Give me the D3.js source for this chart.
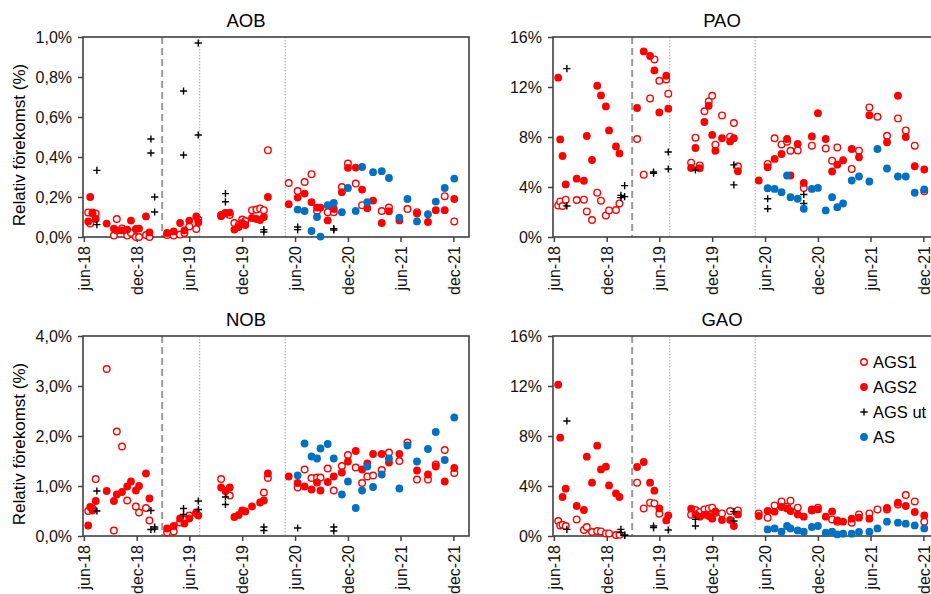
<!DOCTYPE html>
<html>
<head>
<meta charset="utf-8">
<script src="https://cdn.jsdelivr.net/npm/d3@7"></script>
<style>
body { margin: 0; background: #fff; }
svg { display: block; font-family: 'Liberation Sans', Arial, sans-serif; }
</style>
</head>
<body>
<svg width="931" height="594"></svg>
<script>
// sampling dates for AGS1 / AGS2 (2018 period, 2019 period, autumn 2019, 2020-21)
const agsDates = [
    '2018-06-16', '2018-06-23', '2018-07-01', '2018-07-12', '2018-08-19', '2018-09-13', '2018-09-23',
    '2018-10-11', '2018-10-29', '2018-11-11', '2018-11-28', '2018-12-09', '2019-01-02', '2019-01-14',
    '2019-03-16', '2019-04-08', '2019-04-30', '2019-05-15', '2019-06-01', '2019-06-25', '2019-07-02',
    '2019-09-19', '2019-10-04', '2019-10-19', '2019-11-04', '2019-11-19', '2019-12-01', '2019-12-12',
    '2020-01-04', '2020-01-19', '2020-02-01', '2020-02-14', '2020-02-28',
    '2020-05-10', '2020-06-10', '2020-07-04', '2020-07-28', '2020-08-16', '2020-08-28', '2020-09-22',
    '2020-10-13', '2020-11-10', '2020-12-01', '2020-12-28', '2021-01-19', '2021-02-06', '2021-02-26',
    '2021-03-28', '2021-04-22', '2021-05-28', '2021-06-25', '2021-07-28', '2021-09-04', '2021-10-01',
    '2021-11-01', '2021-12-04'
];
// AS was sampled from june 2020 on, same days as AGS
const asDates = agsDates.slice(34);
// AGS ut, two samples per date
const utDates = ['2018-07-16', '2019-01-19', '2019-02-01', '2019-05-12', '2019-07-02',
    '2019-10-04', '2020-02-14', '2020-06-10', '2020-10-13'];

const phaseDates = ['2019-02-27', '2019-07-07', '2020-04-28'];

const xTickDates = ['2018-06-01', '2018-12-01', '2019-06-01', '2019-12-01',
    '2020-06-01', '2020-12-01', '2021-06-01', '2021-12-01'];
const xTickLabels = ['jun-18', 'dec-18', 'jun-19', 'dec-19', 'jun-20', 'dec-20', 'jun-21', 'dec-21'];

const smallTicks = [0, 0.2, 0.4, 0.6, 0.8, 1.0];
const smallTickLabels = ['0,0%', '0,2%', '0,4%', '0,6%', '0,8%', '1,0%'];
const nobTicks = [0, 1, 2, 3, 4];
const nobTickLabels = ['0,0%', '1,0%', '2,0%', '3,0%', '4,0%'];
const bigTicks = [0, 4, 8, 12, 16];
const bigTickLabels = ['0%', '4%', '8%', '12%', '16%'];

// AOB (%)
const aobAgs1 = [0.123, 0.067, 0.123, 0.117, null, 0.007, 0.09, 0.043, 0.007, 0.02, 0.0, 0.0, 0.01, 0.0,
    0.01, 0.007, 0.012, 0.02, 0.053, 0.04, 0.087,
    0.11, 0.12, 0.11, 0.07, 0.06, 0.087, 0.08, 0.134, 0.137, 0.142, 0.134, 0.434,
    0.27, 0.23, 0.275, 0.314, 0.13, null, 0.124, 0.124, 0.25, 0.367, 0.267, 0.159, null, null,
    0.13, 0.147, null, 0.14, 0.124, null, null, 0.204, 0.078];
const aobAgs2 = [0.078, 0.20, 0.117, 0.09, 0.067, 0.042, 0.032, 0.033, 0.037, 0.082, 0.04, 0.042, 0.103, 0.023,
    0.02, 0.028, 0.07, 0.033, 0.082, 0.103, 0.073,
    0.104, 0.118, 0.122, 0.037, 0.05, 0.07, 0.06, 0.095, 0.09, 0.085, 0.10, 0.20,
    0.164, 0.197, 0.217, 0.174, 0.147, 0.147, 0.083, 0.14, 0.224, 0.346, 0.347, 0.237, 0.144, 0.182,
    0.07, 0.129, 0.083, null, 0.117, 0.075, 0.134, 0.134, 0.19];
const aobAs = [0.137, 0.13, 0.03, 0.10, 0.002, 0.159, 0.17, 0.124, 0.245, 0.13, 0.35, 0.174, 0.324, 0.329,
    0.295, 0.097, 0.19, 0.078, 0.114, 0.177, 0.245, 0.292];
const aobUt1 = [0.333, 0.49, 0.2, 0.73, 0.97, 0.217, 0.037, 0.05, 0.042];
const aobUt2 = [0.062, 0.42, 0.125, 0.41, 0.51, 0.176, 0.025, 0.037, 0.035];

// PAO (%)
const paoAgs1 = [2.53, 2.85, 2.48, 2.99, 2.96, 2.99, 2.05, 1.36, 3.55, 2.91, 1.73, 2.13, 2.16, 2.69,
    7.84, 4.99, 11.09, 14.21, 12.5, 12.61, 11.47,
    5.95, 7.95, 5.73, 10.06, 10.85, 11.3, 7.39, 9.73, null, 8.03, 9.12, 5.66,
    null, 5.85, 7.9, 7.41, 7.63, 6.9, 6.93, 3.93, 7.31, null, 7.09, 6.11, 7.17, null,
    5.45, 6.91, 10.37, 9.62, 8.1, 9.49, 8.53, 7.31, 3.67];
const paoAgs2 = [12.75, 7.81, 6.48, 4.21, 4.67, 4.5, 8.08, 6.16, 12.1, 11.33, 10.45, 8.53, 7.25, 6.69,
    10.32, 14.85, 14.48, 13.33, 9.97, 12.9, 10.27,
    5.52, 7.12, 5.5, 9.2, 10.5, 8.17, 6.9, 7.9, null, 7.65, 7.9, 5.26,
    4.52, 5.58, 6.25, 6.64, 7.84, 4.92, 7.44, 4.33, 8.05, 9.91, 7.84, 5.24, 5.79, 6.14,
    7.04, 6.38, 9.75, null, 7.58, 11.3, 8.0, 5.66, 5.4];
const paoAs = [3.9, 3.85, 3.59, 4.92, 3.19, 3.06, 2.26, 3.85, 3.93, 2.13, 3.19, 2.39, 2.68, 4.52,
    4.84, 4.44, 7.04, 5.48, 4.84, 4.84, 3.54, 3.8];
const paoUt1 = [13.47, 3.33, 4.11, 5.2, 6.8, 5.36, 5.77, 3.06, 3.4];
const paoUt2 = [2.48, 3.15, 3.23, 5.1, 5.44, null, 4.17, 2.26, 2.68];

// NOB (%)
const nobAgs1 = [0.50, null, 0.55, 1.14, 3.34, 0.11, 2.09, 1.79, 0.71, null, 0.59, 0.47, 0.56, 0.31,
    0.07, 0.09, 0.27, 0.33, 0.41, 0.46, null,
    1.14, null, 0.81, null, null, null, null, null, null, null, 0.87, 1.16,
    null, 0.97, 1.33, 1.16, 1.17, 1.17, 1.35, 0.91, 1.40, 1.62, 1.37, 1.06, 1.19, 1.21,
    1.32, 1.67, 1.50, 1.87, 1.13, 1.13, 1.43, 1.72, 1.26];
const nobAgs2 = [0.21, 0.58, 0.51, 0.70, 0.90, 0.70, 0.83, 0.88, 0.99, 1.09, 0.91, 1.00, 1.25, 0.75,
    0.15, 0.20, 0.35, 0.25, 0.35, 0.47, 0.41,
    0.97, 0.90, 0.97, 0.38, 0.42, 0.51, 0.49, 0.59, null, 0.67, 0.71, 1.25,
    1.19, 1.06, 0.99, 0.93, 1.07, 0.91, 1.08, 1.19, 1.27, 1.49, 1.70, 1.33, 1.45, 1.64,
    1.64, 1.47, 1.64, null, 1.31, 1.23, 1.39, 1.09, 1.36];
const nobAs = [1.21, 1.85, 1.59, 1.55, 1.75, 1.84, 1.55, 0.83, 1.09, 0.56, 0.91, 1.39, 0.98, 1.23,
    1.55, 0.95, 1.81, 1.49, 1.74, 2.08, 1.52, 2.37];
const nobUt1 = [0.90, 0.51, 0.18, 0.55, 0.70, 0.78, 0.18, 0.16, 0.18];
const nobUt2 = [0.50, 0.13, 0.14, 0.43, 0.53, 0.63, 0.11, null, 0.10];

// GAO (%)
const gaoAgs1 = [1.2, 0.85, 0.9, 0.8, 1.33, 0.48, 0.72, 0.32, 0.4, 0.37, 0.21, 0.21, 0.08, 0.11,
    4.27, 2.21, 2.67, 2.61, 1.79, null, null,
    1.71, 2.08, 1.92, 2.13, 2.21, 2.27, 1.87, 1.81, null, 2.0, null, 2.05,
    1.81, 1.47, 2.45, 2.77, 2.35, 2.83, 2.27, null, 2.05, 2.27, null, 1.33, 1.15, null,
    1.07, 1.73, 1.81, 2.13, 2.13, 2.53, 3.28, 2.77, 1.15];
const gaoAgs2 = [12.1, 7.87, 3.12, 3.79, 2.4, 2.08, 6.35, 4.27, 7.23, 5.33, 5.55, 4.05, 3.41, 3.12,
    5.52, 5.92, 4.27, 3.63, 2.21, 1.25, 1.65,
    2.19, 1.73, 1.55, 1.71, 1.6, 1.39, 1.97, 1.28, null, 1.28, 0.8, 1.73,
    1.6, 2.0, 1.95, 2.32, 2.21, 2.0, 1.73, 1.55, 2.13, 2.13, 1.55, 1.97, 1.25, 1.15,
    1.39, 1.47, 1.39, null, 2.24, 2.67, 2.4, 1.92, 1.65];
const gaoAs = [0.53, 0.61, 0.35, 0.8, 0.61, 0.45, 0.35, 0.72, 0.8, 0.27, 0.35, 0.13, 0.19, 0.19,
    0.32, 0.35, 0.61, 1.15, 1.07, 0.99, 0.85, 0.61];
const gaoUt1 = [9.2, 0.53, 0.08, 0.8, 0.48, 1.33, 1.95, null, null];
const gaoUt2 = [0.53, 0.27, 0.05, 0.67, null, 0.8, 1.2, null, null];

const legendLabels = ['AGS1', 'AGS2', 'AGS ut', 'AS'];

const svg = d3.select('svg');
const parseDate = d3.timeParse('%Y-%m-%d');

const panelWidth = 386;
const panelHeight = 200;
const colLeft = [83, 553];
const rowTop = [37, 336];
const titleX = [246, 722];

const red = '#ff0000';
const blue = '#0070c0';
const axisColor = '#404040';

const zip = (dates, values) => dates
    .map((d, i) => ({ date: parseDate(d), value: values[i] }))
    .filter(d => d.value !== null && d.value !== undefined);

const panels = [
    { name: 'AOB', col: 0, row: 0, yMax: 1, ticks: smallTicks, tickLabels: smallTickLabels,
      ags1: aobAgs1, ags2: aobAgs2, as: aobAs, ut1: aobUt1, ut2: aobUt2 },
    { name: 'PAO', col: 1, row: 0, yMax: 16, ticks: bigTicks, tickLabels: bigTickLabels,
      ags1: paoAgs1, ags2: paoAgs2, as: paoAs, ut1: paoUt1, ut2: paoUt2 },
    { name: 'NOB', col: 0, row: 1, yMax: 4, ticks: nobTicks, tickLabels: nobTickLabels,
      ags1: nobAgs1, ags2: nobAgs2, as: nobAs, ut1: nobUt1, ut2: nobUt2 },
    { name: 'GAO', col: 1, row: 1, yMax: 16, ticks: bigTicks, tickLabels: bigTickLabels,
      ags1: gaoAgs1, ags2: gaoAgs2, as: gaoAs, ut1: gaoUt1, ut2: gaoUt2, legend: true }
];

const xScale = d3.scaleTime()
    .domain([parseDate('2018-05-29'), parseDate('2022-01-24')])
    .range([0, panelWidth]);

const plusPath = 'M-3.6,0H3.6M0,-3.6V3.6';

const render = p => {
    const left = colLeft[p.col];
    const top = rowTop[p.row];

    const yScale = d3.scaleLinear()
        .domain([0, p.yMax])
        .range([panelHeight, 0]);

    svg.append('text')
        .attr('x', titleX[p.col])
        .attr('y', top - 10)
        .attr('text-anchor', 'middle')
        .attr('font-size', 18.5)
        .text(p.name);

    if (p.col === 0) {
        svg.append('text')
            .attr('transform', `translate(25, ${top + panelHeight / 2 + 8}) rotate(-90)`)
            .attr('text-anchor', 'middle')
            .attr('font-size', 17)
            .text('Relativ förekomst (%)');
    }

    const g = svg.append('g')
        .attr('transform', `translate(${left}, ${top})`);

    // phase lines
    g.selectAll('.phase').data(phaseDates)
        .enter().append('line')
        .attr('x1', d => xScale(parseDate(d)))
        .attr('x2', d => xScale(parseDate(d)))
        .attr('y1', 0)
        .attr('y2', panelHeight)
        .attr('stroke', (d, i) => i === 0 ? '#9a9a9a' : '#a8a8a8')
        .attr('stroke-width', (d, i) => i === 0 ? 2 : 1)
        .attr('stroke-dasharray', (d, i) => i === 0 ? '7,4' : '1.5,1.5');

    const yAxis = d3.axisLeft(yScale)
        .tickValues(p.ticks)
        .tickFormat((d, i) => p.tickLabels[i])
        .tickSize(5)
        .tickPadding(6);

    const yAxisG = g.append('g').call(yAxis);
    yAxisG.select('.domain').remove();

    const xAxis = d3.axisBottom(xScale)
        .tickValues(xTickDates.map(parseDate))
        .tickFormat((d, i) => xTickLabels[i])
        .tickSize(5);

    const xAxisG = g.append('g')
        .attr('transform', `translate(0, ${panelHeight})`)
        .call(xAxis);
    xAxisG.select('.domain').remove();
    xAxisG.selectAll('text')
        .attr('transform', 'rotate(-90)')
        .attr('text-anchor', 'end')
        .attr('x', -9)
        .attr('y', 0)
        .attr('dy', '0.35em');

    [yAxisG, xAxisG].forEach(a => {
        a.selectAll('line').attr('stroke', axisColor).attr('stroke-width', 1.5);
        a.selectAll('text').attr('font-size', 16).attr('fill', '#111')
            .attr('font-family', "'Liberation Sans', Arial, sans-serif");
    });

    g.append('rect')
        .attr('width', panelWidth)
        .attr('height', panelHeight)
        .attr('fill', 'none')
        .attr('stroke', axisColor)
        .attr('stroke-width', 1.6);

    g.selectAll('.ags1').data(zip(agsDates, p.ags1))
        .enter().append('circle')
        .attr('cx', d => xScale(d.date))
        .attr('cy', d => yScale(d.value))
        .attr('r', 3.3)
        .attr('fill', '#fff')
        .attr('stroke', red)
        .attr('stroke-width', 1.4);

    g.selectAll('.ags2').data(zip(agsDates, p.ags2))
        .enter().append('circle')
        .attr('cx', d => xScale(d.date))
        .attr('cy', d => yScale(d.value))
        .attr('r', 3.9)
        .attr('fill', red);

    const utData = zip(utDates, p.ut1).concat(zip(utDates, p.ut2));
    g.selectAll('.ut').data(utData)
        .enter().append('path')
        .attr('transform', d => `translate(${xScale(d.date)}, ${yScale(d.value)})`)
        .attr('d', plusPath)
        .attr('stroke', '#000')
        .attr('stroke-width', 1.4);

    g.selectAll('.as').data(zip(asDates, p.as))
        .enter().append('circle')
        .attr('cx', d => xScale(d.date))
        .attr('cy', d => yScale(d.value))
        .attr('r', 3.9)
        .attr('fill', blue);

    if (p.legend) {
        const lg = g.append('g').attr('transform', 'translate(311, 26)');
        const rows = lg.selectAll('g').data(legendLabels)
            .enter().append('g')
            .attr('transform', (d, i) => `translate(0, ${i * 25})`);
        rows.each(function (d, i) {
            const r = d3.select(this);
            if (i === 0) r.append('circle').attr('r', 3.3).attr('fill', '#fff')
                .attr('stroke', red).attr('stroke-width', 1.4);
            if (i === 1) r.append('circle').attr('r', 3.9).attr('fill', red);
            if (i === 2) r.append('path').attr('d', plusPath).attr('stroke', '#000').attr('stroke-width', 1.4);
            if (i === 3) r.append('circle').attr('r', 3.9).attr('fill', blue);
        });
        rows.append('text')
            .attr('x', 9)
            .attr('dy', '0.35em')
            .attr('font-size', 16.5)
            .text(d => d);
    }
};

panels.forEach(render);
</script>
</body>
</html>
